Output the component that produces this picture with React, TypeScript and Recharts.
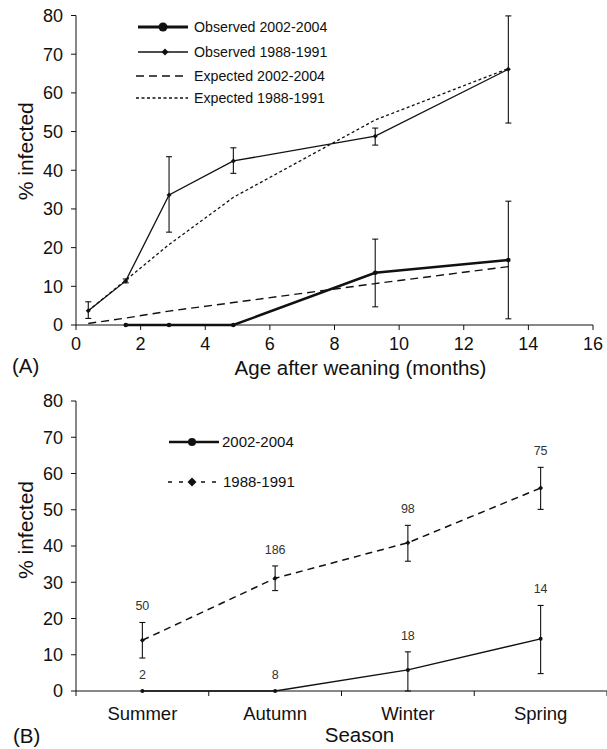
import React from "react";
import {
  LineChart,
  Line,
  XAxis,
  YAxis,
  ErrorBar,
  Legend,
  LabelList,
  Label,
} from "recharts";

// ---- panel A: prevalence by age after weaning ----
const ageMonths = [0.38, 1.54, 2.88, 4.87, 9.26, 13.38];
const obs2002 = [null, 0, 0, 0, 13.5, 16.8];
const obs2002Lo = [null, 0, 0, 0, 4.7, 1.6];
const obs2002Hi = [null, 0, 0, 0, 22.2, 32.0];
const obs1988 = [3.7, 11.4, 33.6, 42.4, 48.8, 66.1];
const obs1988Lo = [1.7, 10.9, 24.0, 39.2, 46.5, 52.2];
const obs1988Hi = [6.0, 11.9, 43.5, 45.8, 50.9, 79.9];
const exp2002 = [0.4, 1.8, 3.6, 5.8, 10.7, 15.1];
const exp1988 = [3.7, 11.6, 20.8, 33.0, 53.0, 66.3];

// ---- panel B: prevalence by season ----
const seasons = ["Summer", "Autumn", "Winter", "Spring"];
const season2002 = [0, 0, 5.8, 14.4];
const season2002Lo = [0, 0, 0, 4.8];
const season2002Hi = [0, 0, 10.8, 23.6];
const season2002N = [2, 8, 18, 14];
const season1988 = [14.0, 31.1, 40.9, 56.0];
const season1988Lo = [9.1, 27.7, 35.8, 50.1];
const season1988Hi = [18.9, 34.5, 45.7, 61.7];
const season1988N = [50, 186, 98, 75];

const yTicks = [0, 10, 20, 30, 40, 50, 60, 70, 80];
const ageTicks = [0, 2, 4, 6, 8, 10, 12, 14, 16];

const INK = "#111";
const FONT = "'Liberation Sans', Arial, sans-serif";

const err = (v: number | null, lo: number | null, hi: number | null) => {
  if (v == null || lo == null || hi == null) return null;
  if (hi - lo === 0) return null;
  return [v - lo, hi - v];
};

const rowsA = ageMonths.map((age, i) => ({
  age,
  obs2002: obs2002[i],
  obs2002Err: err(obs2002[i], obs2002Lo[i], obs2002Hi[i]),
  obs1988: obs1988[i],
  obs1988Err: err(obs1988[i], obs1988Lo[i], obs1988Hi[i]),
  exp2002: exp2002[i],
  exp1988: exp1988[i],
}));

const rowsB = seasons.map((s, i) => ({
  pos: i + 0.5,
  s2002: season2002[i],
  s2002Err: err(season2002[i], season2002Lo[i], season2002Hi[i]),
  s2002Top: season2002Hi[i],
  n2002: season2002N[i],
  s1988: season1988[i],
  s1988Err: err(season1988[i], season1988Lo[i], season1988Hi[i]),
  s1988Top: season1988Hi[i],
  n1988: season1988N[i],
}));

const seasonTicks = [0, 0.5, 1, 1.5, 2, 2.5, 3, 3.5, 4];

const diamondPath = (x: number, y: number, r: number) =>
  `M${x},${y - r}L${x + r},${y}L${x},${y + r}L${x - r},${y}Z`;

const circleDot = (r: number) => (p: any) => {
  if (p.cx == null || p.cy == null || p.value == null)
    return <g key={p.index} />;
  return <circle key={p.index} cx={p.cx} cy={p.cy} r={r} fill={INK} />;
};

const diamondDot = (r: number) => (p: any) => {
  if (p.cx == null || p.cy == null || p.value == null)
    return <g key={p.index} />;
  return <path key={p.index} d={diamondPath(p.cx, p.cy, r)} fill={INK} />;
};

// sample size printed above the error bar
const countLabel = (p: any) => {
  if (p.x == null || p.y == null) return null;
  return (
    <text
      x={p.x}
      y={p.y - 12}
      textAnchor="middle"
      fontSize={12.5}
      fill="#333"
      stroke="none"
    >
      {p.value}
    </text>
  );
};

const LegendA = () => (
  <svg width={607} height={110} style={{ display: "block" }}>
    <g fontSize={14.2} fill={INK}>
      <line x1={138} x2={188} y1={27} y2={27} stroke={INK} strokeWidth={3} />
      <circle cx={163} cy={27} r={4.5} fill={INK} />
      <text x={194} y={32}>Observed 2002-2004</text>

      <line x1={138} x2={188} y1={52} y2={52} stroke={INK} strokeWidth={1.3} />
      <path d={diamondPath(165, 52, 3.5)} fill={INK} />
      <text x={194} y={57}>Observed 1988-1991</text>

      <line x1={136} x2={186} y1={76} y2={76} stroke={INK} strokeWidth={1.6} strokeDasharray="8 5" />
      <text x={194} y={81}>Expected 2002-2004</text>

      <line x1={136} x2={188} y1={98} y2={98} stroke={INK} strokeWidth={1.3} strokeDasharray="3 2.5" />
      <text x={194} y={103}>Expected 1988-1991</text>
    </g>
  </svg>
);

const LegendB = () => (
  <svg width={300} height={120} style={{ display: "block" }}>
    <g fontSize={15} fill={INK}>
      <line x1={169} x2={219} y1={62} y2={62} stroke={INK} strokeWidth={2.4} />
      <circle cx={192} cy={62} r={4} fill={INK} />
      <text x={222} y={67.4}>2002-2004</text>

      <line x1={168} x2={217} y1={102} y2={102} stroke={INK} strokeWidth={1.5} strokeDasharray="4 7" />
      <path d={diamondPath(192, 102, 4.5)} fill={INK} />
      <text x={223} y={107.4}>1988-1991</text>
    </g>
  </svg>
);

const yTitle = (shift: number) => (props: any) => {
  const vb = props.viewBox;
  const cx = vb.x + 33;
  const cy = vb.y + vb.height / 2 + shift;
  return (
    <text
      x={cx}
      y={cy}
      transform={`rotate(-90 ${cx} ${cy})`}
      textAnchor="middle"
      fontSize={21}
      fill={INK}
    >
      % infected
    </text>
  );
};

const xTitleA = (props: any) => {
  const vb = props.viewBox;
  return (
    <g fontSize={20.5} fill={INK}>
      <text x={vb.x + vb.width / 2 + 26} y={vb.y + 50} textAnchor="middle">
        Age after weaning (months)
      </text>
      <text x={12} y={vb.y + 48}>(A)</text>
    </g>
  );
};

const xTitleB = (props: any) => {
  const vb = props.viewBox;
  return (
    <g fontSize={20.5} fill={INK}>
      <text x={vb.x + vb.width / 2 + 18} y={vb.y + 51} textAnchor="middle">
        Season
      </text>
      <text x={13} y={vb.y + 52}>(B)</text>
    </g>
  );
};

const SeasonTick = (p: any) => {
  const v = p.payload.value;
  if (Number.isInteger(v)) {
    return <line x1={p.x} x2={p.x} y1={p.y} y2={p.y + 5} stroke={INK} />;
  }
  return (
    <text x={p.x} y={p.y + 29} textAnchor="middle" fontSize={18.5} fill={INK}>
      {seasons[Math.floor(v)]}
    </text>
  );
};

const tickStyle = { fontSize: 18, fill: INK };

export default function App() {
  return (
    <div
      style={{
        position: "absolute",
        left: 0,
        top: 0,
        width: 607,
        height: 749,
        background: "#fff",
        fontFamily: FONT,
      }}
    >
      <LineChart
        width={607}
        height={380}
        data={rowsA}
        margin={{ top: 15.5, right: 14, bottom: 0, left: 0 }}
      >
        <XAxis
          type="number"
          dataKey="age"
          domain={[0, 16]}
          ticks={ageTicks}
          interval={0}
          height={55}
          tickSize={5}
          tickMargin={7}
          tick={tickStyle}
          stroke={INK}
        >
          <Label content={xTitleA} />
        </XAxis>
        <YAxis
          type="number"
          domain={[0, 80]}
          ticks={yTicks}
          interval={0}
          width={76}
          tickSize={5}
          tickMargin={8}
          tick={tickStyle}
          stroke={INK}
        >
          <Label content={yTitle(-19)} />
        </YAxis>
        <Legend
          content={LegendA}
          layout="horizontal"
          verticalAlign="middle"
          align="center"
          wrapperStyle={{ left: 0, top: 0, width: 607, height: 110 }}
        />
        <Line
          dataKey="exp2002"
          stroke={INK}
          strokeWidth={1.4}
          strokeDasharray="8 5"
          dot={false}
          isAnimationActive={false}
        />
        <Line
          dataKey="exp1988"
          stroke={INK}
          strokeWidth={1.3}
          strokeDasharray="3 2.5"
          dot={false}
          isAnimationActive={false}
        />
        <Line
          dataKey="obs1988"
          stroke={INK}
          strokeWidth={1.3}
          dot={diamondDot(2.5)}
          isAnimationActive={false}
        >
          <ErrorBar dataKey="obs1988Err" width={3} stroke={INK} strokeWidth={1.1} />
        </Line>
        <Line
          dataKey="obs2002"
          stroke={INK}
          strokeWidth={2.4}
          dot={circleDot(2.3)}
          isAnimationActive={false}
        >
          <ErrorBar dataKey="obs2002Err" width={3} stroke={INK} strokeWidth={1.1} />
        </Line>
      </LineChart>

      <LineChart
        width={607}
        height={369}
        data={rowsB}
        margin={{ top: 21, right: 0, bottom: 0, left: 0 }}
      >
        <XAxis
          type="number"
          dataKey="pos"
          domain={[0, 4]}
          ticks={seasonTicks}
          interval={0}
          height={58}
          tickSize={0}
          tickMargin={0}
          tickLine={false}
          tick={SeasonTick}
          stroke={INK}
        >
          <Label content={xTitleB} />
        </XAxis>
        <YAxis
          type="number"
          domain={[0, 80]}
          ticks={yTicks}
          interval={0}
          width={76}
          tickSize={5}
          tickMargin={8}
          tick={tickStyle}
          stroke={INK}
        >
          <Label content={yTitle(-16)} />
        </YAxis>
        <Legend
          content={LegendB}
          layout="horizontal"
          verticalAlign="middle"
          align="center"
          wrapperStyle={{ left: 0, top: 0, width: 300, height: 120 }}
        />
        <Line
          dataKey="s1988Top"
          stroke="none"
          dot={false}
          isAnimationActive={false}
        >
          <LabelList dataKey="n1988" content={countLabel} />
        </Line>
        <Line
          dataKey="s2002Top"
          stroke="none"
          dot={false}
          isAnimationActive={false}
        >
          <LabelList dataKey="n2002" content={countLabel} />
        </Line>
        <Line
          dataKey="s1988"
          stroke={INK}
          strokeWidth={1.5}
          strokeDasharray="7 5"
          dot={diamondDot(2.5)}
          isAnimationActive={false}
        >
          <ErrorBar dataKey="s1988Err" width={3} stroke={INK} strokeWidth={1.1} />
        </Line>
        <Line
          dataKey="s2002"
          stroke={INK}
          strokeWidth={1.3}
          dot={circleDot(2)}
          isAnimationActive={false}
        >
          <ErrorBar dataKey="s2002Err" width={3} stroke={INK} strokeWidth={1.1} />
        </Line>
      </LineChart>
    </div>
  );
}
